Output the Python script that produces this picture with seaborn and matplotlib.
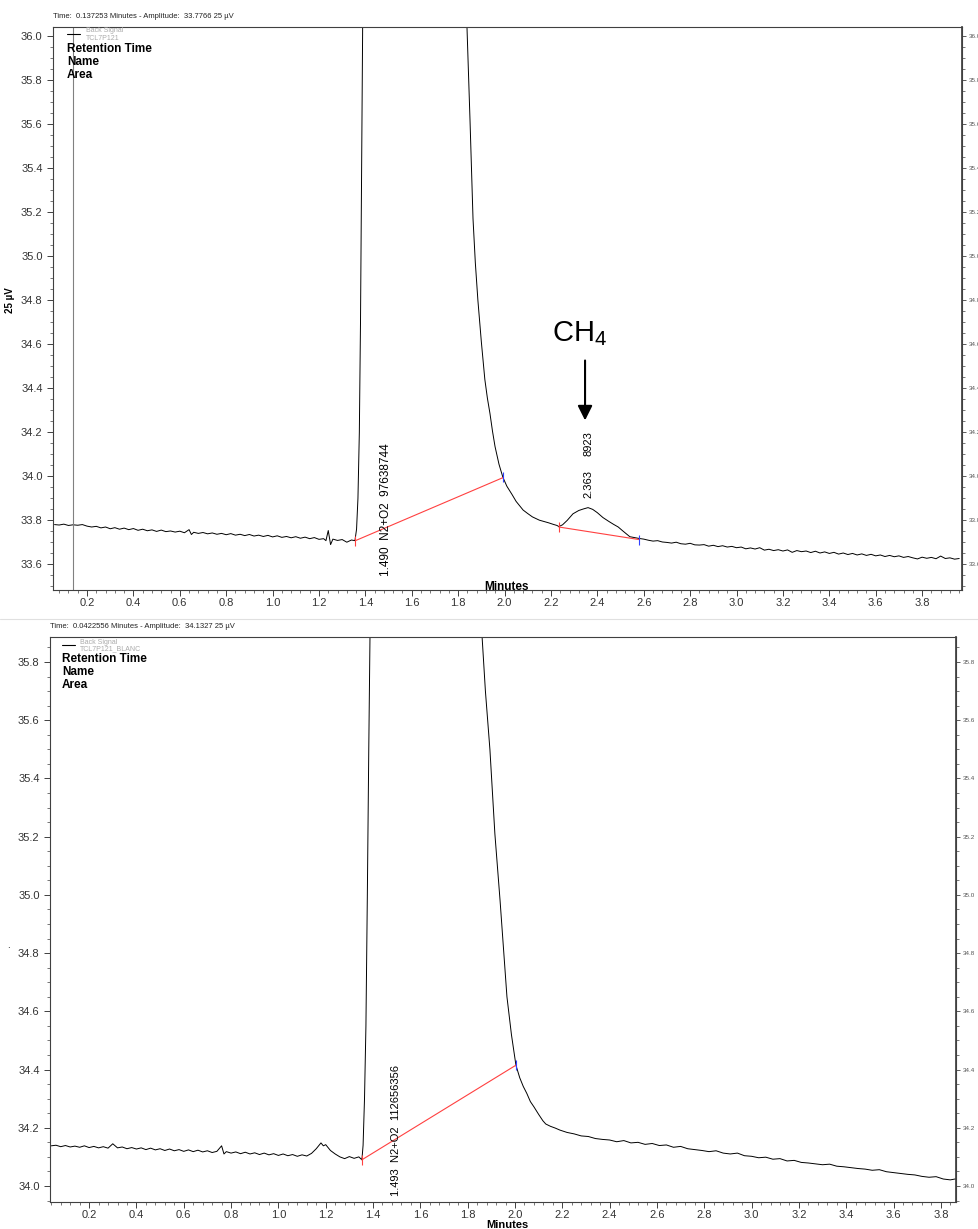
"""
GC chromatograms (TCD back signal) - sample TCL7P121 vs blank TCL7P121_BLANC.
Two stacked panels, CH4 peak annotated on the sample run.
"""

import matplotlib.pyplot as plt
import matplotlib.ticker as mticker
from matplotlib.lines import Line2D
import seaborn as sns

sns.set_theme(style="ticks")
plt.rcParams["font.family"] = ["Liberation Sans", "DejaVu Sans"]
plt.rcParams["mathtext.fontset"] = "custom"
plt.rcParams["mathtext.rm"] = "Liberation Sans"
plt.rcParams["mathtext.it"] = "Liberation Sans:italic"

# ── Data: sample run (TCL7P121) ──────────────────────────────────────
top_time = [
    0.06, 0.08, 0.10, 0.12, 0.14, 0.16, 0.18, 0.20, 0.22, 0.24, 0.26, 0.28,
    0.30, 0.32, 0.34, 0.36, 0.38, 0.40, 0.42, 0.44, 0.46, 0.48, 0.50, 0.52,
    0.54, 0.56, 0.58, 0.60, 0.62, 0.64, 0.65, 0.66, 0.68, 0.70, 0.72, 0.74,
    0.76, 0.78, 0.80, 0.82, 0.84, 0.86, 0.88, 0.90, 0.92, 0.94, 0.96, 0.98,
    1.00, 1.02, 1.04, 1.06, 1.08, 1.10, 1.12, 1.14, 1.16, 1.18, 1.20, 1.22,
    1.23, 1.24, 1.25, 1.26, 1.28, 1.30, 1.32, 1.34, 1.355,
    1.362, 1.368, 1.374, 1.379, 1.384, 1.388, 1.392, 1.40, 1.45, 1.60,
    1.80, 1.838, 1.851, 1.864, 1.874, 1.885, 1.90, 1.915, 1.926, 1.937,
    1.948, 1.959, 1.976, 1.993, 2.01, 2.032, 2.05, 2.08, 2.10, 2.12, 2.15,
    2.17, 2.19, 2.21, 2.226, 2.234, 2.25, 2.27, 2.295, 2.32, 2.34, 2.36,
    2.38, 2.40, 2.424, 2.45, 2.47, 2.49, 2.51, 2.54, 2.56, 2.58, 2.60, 2.62,
    2.64, 2.66, 2.68, 2.70, 2.72, 2.74, 2.76, 2.78, 2.80, 2.82, 2.84, 2.86,
    2.88, 2.90, 2.92, 2.94, 2.96, 2.98, 3.00, 3.02, 3.04, 3.06, 3.08, 3.10,
    3.12, 3.14, 3.16, 3.18, 3.20, 3.22, 3.24, 3.26, 3.28, 3.30, 3.32, 3.34,
    3.36, 3.38, 3.40, 3.42, 3.44, 3.46, 3.48, 3.50, 3.52, 3.54, 3.56, 3.58,
    3.60, 3.62, 3.64, 3.66, 3.68, 3.70, 3.72, 3.74, 3.76, 3.78, 3.80, 3.82,
    3.84, 3.86, 3.88, 3.90, 3.92, 3.94, 3.96,
]
top_signal = [
    33.781, 33.779, 33.783, 33.777, 33.780, 33.778, 33.781, 33.774, 33.770, 33.773, 33.766, 33.770,
    33.762, 33.767, 33.760, 33.765, 33.758, 33.763, 33.755, 33.760, 33.753, 33.757, 33.750, 33.756,
    33.749, 33.752, 33.747, 33.751, 33.744, 33.758, 33.736, 33.746, 33.741, 33.745, 33.739, 33.743,
    33.737, 33.741, 33.735, 33.740, 33.733, 33.737, 33.731, 33.736, 33.729, 33.733, 33.727, 33.732,
    33.725, 33.730, 33.723, 33.727, 33.721, 33.726, 33.719, 33.724, 33.717, 33.722, 33.714, 33.717,
    33.708, 33.754, 33.690, 33.715, 33.709, 33.713, 33.701, 33.711, 33.708,
    33.76, 33.90, 34.20, 34.70, 35.40, 36.00, 36.80, 38.5, 45.0, 60.0,
    38.5, 36.04, 35.62, 35.17, 34.97, 34.80, 34.61, 34.44, 34.355, 34.286,
    34.205, 34.135, 34.055, 33.995, 33.955, 33.918, 33.886, 33.847, 33.831, 33.816, 33.801,
    33.795, 33.789, 33.782, 33.777, 33.772, 33.780, 33.800, 33.830, 33.845, 33.852, 33.858,
    33.850, 33.835, 33.813, 33.795, 33.782, 33.770, 33.752, 33.726, 33.722, 33.718, 33.715, 33.710,
    33.706, 33.708, 33.702, 33.700, 33.697, 33.701, 33.694, 33.692, 33.696, 33.689, 33.688, 33.690,
    33.683, 33.687, 33.681, 33.685, 33.679, 33.682, 33.676, 33.679, 33.671, 33.675, 33.670, 33.676,
    33.665, 33.669, 33.663, 33.667, 33.661, 33.666, 33.655, 33.663, 33.658, 33.661, 33.654, 33.660,
    33.652, 33.657, 33.650, 33.655, 33.647, 33.652, 33.645, 33.650, 33.643, 33.648, 33.641, 33.646,
    33.639, 33.643, 33.636, 33.641, 33.635, 33.639, 33.632, 33.636, 33.630, 33.625, 33.633, 33.628,
    33.632, 33.626, 33.638, 33.627, 33.630, 33.624, 33.627,
]
# integration baselines (start, end)
top_base_t = [[1.357, 1.995], [2.234, 2.580]]
top_base_y = [[33.708, 33.995], [33.770, 33.713]]

# ── Data: blank run (TCL7P121_BLANC) ─────────────────────────────────
bot_time = [
    0.04, 0.06, 0.08, 0.10, 0.12, 0.14, 0.16, 0.18, 0.20, 0.22, 0.24, 0.26,
    0.28, 0.30, 0.32, 0.34, 0.36, 0.38, 0.40, 0.42, 0.44, 0.46, 0.48, 0.50,
    0.52, 0.54, 0.56, 0.58, 0.60, 0.62, 0.64, 0.66, 0.68, 0.70, 0.72, 0.74,
    0.76, 0.77, 0.78, 0.80, 0.82, 0.84, 0.86, 0.88, 0.90, 0.92, 0.94, 0.96,
    0.98, 1.00, 1.02, 1.04, 1.06, 1.08, 1.10, 1.12, 1.14, 1.16, 1.18, 1.19,
    1.20, 1.22, 1.24, 1.26, 1.28, 1.30, 1.32, 1.34, 1.353,
    1.358, 1.364, 1.370, 1.376, 1.382, 1.388, 1.395, 1.41, 1.45, 1.60,
    1.80, 1.861, 1.875, 1.894, 1.915, 1.937, 1.952, 1.966, 1.985, 2.004,
    2.02, 2.035, 2.05, 2.065, 2.08, 2.10, 2.118, 2.13, 2.15, 2.17, 2.19,
    2.22, 2.25, 2.28, 2.31, 2.34, 2.37, 2.40, 2.43, 2.46, 2.49, 2.52, 2.55,
    2.58, 2.61, 2.64, 2.67, 2.70, 2.73, 2.76, 2.79, 2.82, 2.85, 2.88, 2.91,
    2.94, 2.97, 3.00, 3.03, 3.06, 3.09, 3.12, 3.15, 3.18, 3.21, 3.24, 3.27,
    3.30, 3.33, 3.36, 3.39, 3.42, 3.45, 3.48, 3.51, 3.54, 3.57, 3.60, 3.63,
    3.66, 3.69, 3.72, 3.75, 3.78, 3.81, 3.84, 3.86,
]
bot_signal = [
    34.138, 34.140, 34.135, 34.139, 34.134, 34.137, 34.133, 34.138, 34.132, 34.136, 34.131, 34.135,
    34.130, 34.145, 34.131, 34.134, 34.128, 34.132, 34.127, 34.131, 34.125, 34.130, 34.124, 34.128,
    34.122, 34.127, 34.121, 34.125, 34.119, 34.124, 34.118, 34.123, 34.117, 34.121, 34.115, 34.119,
    34.138, 34.110, 34.118, 34.113, 34.117, 34.111, 34.116, 34.110, 34.114, 34.108, 34.113, 34.107,
    34.111, 34.105, 34.110, 34.104, 34.108, 34.102, 34.107, 34.103, 34.112, 34.128, 34.148, 34.138,
    34.142, 34.122, 34.110, 34.100, 34.094, 34.101, 34.095, 34.100, 34.090,
    34.14, 34.30, 34.55, 35.00, 35.50, 35.95, 36.80, 39.0, 45.0, 60.0,
    38.0, 35.886, 35.70, 35.50, 35.21, 34.98, 34.81, 34.65, 34.52, 34.415,
    34.372, 34.342, 34.318, 34.290, 34.272, 34.246, 34.224, 34.213, 34.205, 34.199, 34.192,
    34.184, 34.179, 34.172, 34.170, 34.163, 34.160, 34.158, 34.152, 34.156, 34.148, 34.150, 34.143,
    34.146, 34.139, 34.141, 34.133, 34.136, 34.128, 34.125, 34.122, 34.118, 34.121, 34.113, 34.110,
    34.113, 34.104, 34.102, 34.097, 34.099, 34.092, 34.094, 34.086, 34.088, 34.081, 34.079, 34.076,
    34.073, 34.075, 34.068, 34.066, 34.063, 34.060, 34.058, 34.054, 34.056, 34.049, 34.046, 34.043,
    34.040, 34.038, 34.033, 34.030, 34.032, 34.024, 34.021, 34.024,
]
bot_base_t = [[1.353, 2.004]]
bot_base_y = [[34.090, 34.415]]

top_yticks = [33.6, 33.8, 34.0, 34.2, 34.4, 34.6, 34.8, 35.0, 35.2, 35.4, 35.6, 35.8, 36.0]
bot_yticks = [34.0, 34.2, 34.4, 34.6, 34.8, 35.0, 35.2, 35.4, 35.6, 35.8]
xticks = [0.2, 0.4, 0.6, 0.8, 1.0, 1.2, 1.4, 1.6, 1.8, 2.0, 2.2, 2.4, 2.6, 2.8,
          3.0, 3.2, 3.4, 3.6, 3.8]

W, H = 979, 1229
fig = plt.figure(figsize=(W / 100, H / 100), dpi=100)


def px_box(l, t, r, b):
    return [l / W, 1 - b / H, (r - l) / W, (b - t) / H]


def style_axes(ax, yticks, xlim, ylim):
    ax.set_xlim(*xlim)
    ax.set_ylim(*ylim)
    ax.set_xticks(xticks)
    ax.set_yticks(yticks)
    ax.xaxis.set_major_formatter(mticker.FormatStrFormatter("%.1f"))
    ax.yaxis.set_major_formatter(mticker.FormatStrFormatter("%.1f"))
    ax.xaxis.set_minor_locator(mticker.MultipleLocator(0.04))
    ax.yaxis.set_minor_locator(mticker.MultipleLocator(0.05))
    ax.tick_params(axis="both", which="major", labelsize=8, colors="#404040",
                   labelcolor="#333333", length=4, width=0.7, direction="out")
    ax.tick_params(axis="both", which="minor", length=2, width=0.5, colors="#404040")
    ax.tick_params(axis="x", pad=2)
    for s in ax.spines.values():
        s.set_color("#404040")
        s.set_linewidth(0.8)
    ax.set_xlabel("")
    ax.set_ylabel("")
    ax.grid(False)
    sec = ax.secondary_yaxis("right")
    sec.set_yticks(yticks)
    sec.yaxis.set_major_formatter(mticker.FormatStrFormatter("%.1f"))
    sec.yaxis.set_minor_locator(mticker.MultipleLocator(0.05))
    sec.tick_params(which="major", labelsize=4.5, labelcolor="#555555", length=3,
                    width=0.6, colors="#404040", pad=2)
    sec.tick_params(which="minor", length=2, width=0.5, colors="#404040")
    sec.spines["right"].set_color("#404040")


def draw_baselines(ax, bt, by):
    for t, y in zip(bt, by):
        ax.plot(t, y, color="#ff4040", lw=0.8, zorder=3)
        ax.plot([t[0]], [y[0]], marker="|", color="#ff4040", ms=7, mew=0.8, zorder=4)
        ax.plot([t[1]], [y[1]], marker="|", color="#3040ff", ms=7, mew=0.8, zorder=4)


# ── Top panel ────────────────────────────────────────────────────────
ax1 = fig.add_axes(px_box(53, 27, 962, 590))
sns.lineplot(x=top_time, y=top_signal, ax=ax1, color="black", lw=0.7,
             sort=False, estimator=None)
style_axes(ax1, top_yticks, (0.0534, 3.972), (33.484, 36.04))
ax1.axvline(0.14, color="#808080", lw=0.8)
draw_baselines(ax1, top_base_t, top_base_y)

ax1.text(1.49, 33.849, "1.490  N2+O2  97638744", rotation=90, ha="center",
         va="center", fontsize=8.5, color="black")
ax1.text(2.363, 33.963, "2.363", rotation=90, ha="center", va="center",
         fontsize=8, color="black")
ax1.text(2.363, 34.150, "8923", rotation=90, ha="center", va="center",
         fontsize=8, color="black")
ax1.text(2.325, 34.649, "CH$_4$", ha="center", va="center", fontsize=21,
         color="black")
ax1.annotate("", xy=(2.347, 34.254), xytext=(2.347, 34.526),
             arrowprops=dict(arrowstyle="-|>", color="black", lw=1.5,
                             mutation_scale=22, shrinkA=0, shrinkB=0))

# ── Bottom panel ─────────────────────────────────────────────────────
ax2 = fig.add_axes(px_box(50, 637, 956, 1202))
sns.lineplot(x=bot_time, y=bot_signal, ax=ax2, color="black", lw=0.7,
             sort=False, estimator=None)
style_axes(ax2, bot_yticks, (0.0347, 3.864), (33.945, 35.886))
draw_baselines(ax2, bot_base_t, bot_base_y)
ax2.text(1.497, 34.192, "1.493  N2+O2  112656356", rotation=90, ha="center",
         va="center", fontsize=8, color="black")

# ── Figure-level decorations (headers, legends, axis titles) ─────────
def ftext(px, py, s, **kw):
    fig.text(px / W, 1 - py / H, s, **kw)


ftext(53, 16, "Time:  0.137253 Minutes - Amplitude:  33.7766 25 \u00b5V",
      fontsize=5.5, va="center", color="#222222")
ftext(50, 627, "Time:  0.0422556 Minutes - Amplitude:  34.1327 25 \u00b5V",
      fontsize=5.5, va="center", color="#222222")
fig.add_artist(Line2D([0, 1], [1 - 619 / H] * 2, color="#e0e0e0", lw=0.8))

for lx0, lx1, ly, ty1, ty2, tx, name in [
    (67, 80, 34, 31, 38, 86, "TCL7P121"),
    (62, 75, 645, 642, 649, 80, "TCL7P121_BLANC"),
]:
    fig.add_artist(Line2D([lx0 / W, lx1 / W], [1 - ly / H] * 2, color="black", lw=0.8))
    ftext(tx, ty1, "Back Signal", fontsize=5, va="center", color="#aaaaaa")
    ftext(tx, ty2, name, fontsize=5, va="center", color="#aaaaaa")

for x0, y0 in [(67, 49), (62, 659)]:
    for i, lab in enumerate(["Retention Time", "Name", "Area"]):
        ftext(x0, y0 + 13 * i, lab, fontsize=8.5, fontweight="bold",
              va="center", color="black")

ftext(507, 587, "Minutes", fontsize=8.5, fontweight="bold", ha="center",
      va="center", color="black")
ftext(507, 1225, "Minutes", fontsize=8, fontweight="bold", ha="center",
      va="center", color="black")
ftext(10, 300, "25 \u00b5V", fontsize=7, fontweight="bold", rotation=90,
      ha="center", va="center", color="black")
ftext(8, 945, ".", fontsize=7, ha="center", va="center", color="black")

fig.savefig("out.png", dpi=100)
